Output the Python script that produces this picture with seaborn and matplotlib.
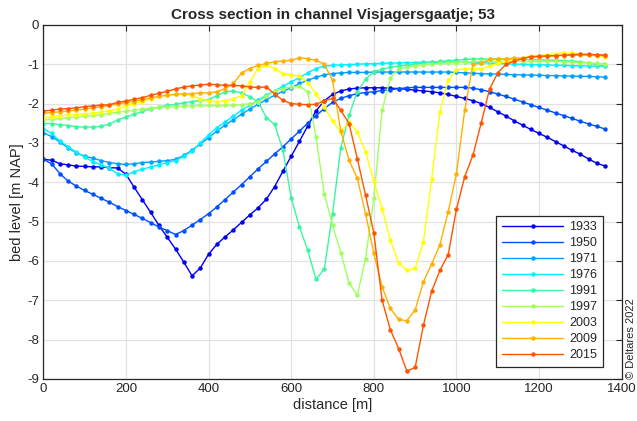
import numpy as np
import pandas as pd
import matplotlib
matplotlib.use("Agg")
import matplotlib.pyplot as plt
import seaborn as sns

# distance along the cross section [m]
distance = [0, 20, 40, 60, 80, 100, 120, 140, 160, 180,
            200, 220, 240, 260, 280, 300, 320, 340, 360, 380,
            400, 420, 440, 460, 480, 500, 520, 540, 560, 580,
            600, 620, 640, 660, 680, 700, 720, 740, 760, 780,
            800, 820, 840, 860, 880, 900, 920, 940, 960, 980,
            1000, 1020, 1040, 1060, 1080, 1100, 1120, 1140, 1160, 1180,
            1200, 1220, 1240, 1260, 1280, 1300, 1320, 1340, 1360]

years = ['1933', '1950', '1971', '1976', '1991', '1997', '2003', '2009', '2015']

# bed level [m NAP] per survey year
z1933 = [-3.42, -3.44, -3.53, -3.56, -3.59, -3.60, -3.61, -3.61, -3.63, -3.64,
         -3.80, -4.13, -4.45, -4.77, -5.10, -5.40, -5.70, -6.03, -6.38, -6.18,
         -5.83, -5.58, -5.39, -5.21, -5.02, -4.83, -4.65, -4.43, -4.11, -3.72,
         -3.34, -2.96, -2.57, -2.19, -1.93, -1.77, -1.68, -1.63, -1.61, -1.60,
         -1.60, -1.60, -1.61, -1.62, -1.64, -1.66, -1.68, -1.70, -1.73, -1.77,
         -1.82, -1.87, -1.93, -2.00, -2.10, -2.21, -2.32, -2.44, -2.55, -2.66,
         -2.76, -2.86, -2.97, -3.08, -3.19, -3.29, -3.41, -3.52, -3.59]
z1950 = [-3.42, -3.53, -3.78, -3.97, -4.10, -4.21, -4.31, -4.41, -4.51, -4.62,
         -4.72, -4.82, -4.92, -5.03, -5.14, -5.23, -5.33, -5.23, -5.09, -4.95,
         -4.80, -4.63, -4.44, -4.25, -4.06, -3.86, -3.66, -3.47, -3.28, -3.10,
         -2.90, -2.70, -2.50, -2.31, -2.13, -1.97, -1.87, -1.80, -1.75, -1.72,
         -1.70, -1.67, -1.65, -1.62, -1.60, -1.59, -1.59, -1.59, -1.59, -1.59,
         -1.59, -1.59, -1.61, -1.65, -1.70, -1.76, -1.82, -1.89, -1.96, -2.03,
         -2.10, -2.17, -2.24, -2.31, -2.38, -2.45, -2.52, -2.58, -2.65]
z1971 = [-2.74, -2.84, -2.98, -3.13, -3.25, -3.34, -3.39, -3.45, -3.50, -3.53,
         -3.55, -3.53, -3.50, -3.49, -3.47, -3.45, -3.42, -3.32, -3.19, -3.03,
         -2.87, -2.70, -2.55, -2.41, -2.27, -2.14, -2.02, -1.90, -1.79, -1.69,
         -1.60, -1.49, -1.41, -1.33, -1.27, -1.24, -1.22, -1.21, -1.21, -1.21,
         -1.20, -1.20, -1.20, -1.20, -1.20, -1.20, -1.20, -1.20, -1.20, -1.20,
         -1.21, -1.22, -1.23, -1.24, -1.25, -1.25, -1.26, -1.27, -1.27, -1.28,
         -1.28, -1.29, -1.29, -1.30, -1.30, -1.31, -1.31, -1.32, -1.33]
z1976 = [-2.64, -2.76, -2.95, -3.10, -3.24, -3.36, -3.48, -3.56, -3.65, -3.79,
         -3.82, -3.73, -3.67, -3.61, -3.56, -3.50, -3.45, -3.34, -3.21, -3.00,
         -2.80, -2.61, -2.47, -2.32, -2.17, -2.04, -1.92, -1.79, -1.68, -1.56,
         -1.45, -1.34, -1.22, -1.11, -1.05, -1.03, -1.02, -1.01, -1.00, -0.99,
         -0.99, -0.98, -0.97, -0.97, -0.96, -0.96, -0.95, -0.95, -0.95, -0.95,
         -0.95, -0.95, -0.96, -0.96, -0.97, -0.98, -0.99, -1.00, -1.00, -1.01,
         -1.02, -1.02, -1.03, -1.03, -1.04, -1.04, -1.05, -1.05, -1.05]
z1991 = [-2.51, -2.51, -2.54, -2.56, -2.59, -2.60, -2.60, -2.58, -2.52, -2.42,
         -2.34, -2.27, -2.20, -2.14, -2.09, -2.05, -2.02, -1.98, -1.95, -1.92,
         -1.90, -1.80, -1.70, -1.68, -1.73, -1.83, -1.96, -2.36, -2.53, -3.19,
         -4.39, -5.14, -5.73, -6.47, -6.21, -4.81, -3.12, -2.30, -1.70, -1.38,
         -1.19, -1.13, -1.08, -1.05, -1.02, -1.00, -0.97, -0.95, -0.93, -0.91,
         -0.90, -0.88, -0.87, -0.87, -0.87, -0.87, -0.88, -0.88, -0.88, -0.89,
         -0.89, -0.90, -0.90, -0.91, -0.92, -0.94, -0.97, -1.01, -1.05]
z1997 = [-2.42, -2.40, -2.38, -2.36, -2.34, -2.32, -2.30, -2.28, -2.25, -2.22,
         -2.20, -2.17, -2.14, -2.12, -2.10, -2.09, -2.08, -2.07, -2.06, -2.05,
         -2.05, -2.05, -2.05, -2.04, -2.03, -2.00, -1.95, -1.82, -1.68, -1.62,
         -1.58, -1.56, -1.70, -2.85, -4.29, -5.09, -5.79, -6.56, -6.87, -5.94,
         -4.40, -2.17, -1.35, -1.12, -1.07, -1.04, -1.02, -1.00, -0.98, -0.97,
         -0.96, -0.95, -0.94, -0.93, -0.93, -0.93, -0.93, -0.93, -0.93, -0.93,
         -0.93, -0.93, -0.93, -0.94, -0.95, -0.96, -0.97, -0.98, -0.99]
z2003 = [-2.36, -2.34, -2.31, -2.30, -2.28, -2.26, -2.25, -2.21, -2.19, -2.13,
         -2.06, -2.00, -1.95, -1.88, -1.82, -1.78, -1.76, -1.76, -1.80, -1.88,
         -1.93, -1.96, -1.93, -1.88, -1.80, -1.45, -1.11, -1.03, -1.11, -1.24,
         -1.28, -1.30, -1.47, -1.75, -2.08, -2.44, -2.72, -2.47, -2.72, -3.23,
         -3.97, -4.67, -5.47, -6.05, -6.24, -6.19, -5.52, -3.91, -2.21, -1.41,
         -1.14, -1.12, -1.12, -1.12, -1.05, -0.98, -0.93, -0.88, -0.84, -0.80,
         -0.78, -0.76, -0.73, -0.71, -0.72, -0.74, -0.76, -0.79, -0.81]
z2009 = [-2.25, -2.23, -2.21, -2.19, -2.17, -2.14, -2.11, -2.08, -2.05, -2.01,
         -1.98, -1.95, -1.90, -1.86, -1.82, -1.79, -1.77, -1.76, -1.75, -1.73,
         -1.73, -1.70, -1.62, -1.49, -1.22, -1.11, -1.03, -0.98, -0.94, -0.92,
         -0.90, -0.84, -0.86, -0.90, -1.00, -1.41, -2.70, -3.44, -3.90, -4.80,
         -5.81, -6.66, -7.21, -7.49, -7.52, -7.25, -6.53, -6.08, -5.59, -4.75,
         -3.78, -2.17, -1.00, -0.98, -0.88, -0.87, -0.86, -0.85, -0.84, -0.82,
         -0.81, -0.80, -0.79, -0.78, -0.77, -0.77, -0.77, -0.77, -0.78]
z2015 = [-2.19, -2.17, -2.14, -2.13, -2.11, -2.08, -2.06, -2.04, -2.03, -1.97,
         -1.94, -1.89, -1.85, -1.79, -1.74, -1.69, -1.63, -1.58, -1.55, -1.53,
         -1.51, -1.52, -1.54, -1.54, -1.55, -1.58, -1.59, -1.58, -1.76, -1.92,
         -2.00, -2.02, -2.03, -2.02, -1.93, -1.87, -2.17, -2.51, -3.40, -4.33,
         -5.29, -7.00, -7.75, -8.23, -8.80, -8.71, -7.64, -6.77, -6.24, -5.84,
         -4.69, -3.86, -3.31, -2.49, -1.64, -1.22, -1.00, -0.92, -0.86, -0.81,
         -0.80, -0.79, -0.78, -0.77, -0.76, -0.75, -0.75, -0.76, -0.77]

# jet-like colours, one per survey
colors = ['#0000f0', '#0050ff', '#00a0ff', '#00f0ff', '#3cf5a0',
          '#a0ff60', '#ffff00', '#ffb000', '#ff5500']

#############################################################################
# long format table for seaborn
#############################################################################
profiles = [z1933, z1950, z1971, z1976, z1991, z1997, z2003, z2009, z2015]
frames = []
for yr, z in zip(years, profiles):
    frames.append(pd.DataFrame({'distance': distance, 'bed': z, 'year': yr}))
df = pd.concat(frames, ignore_index=True)

#############################################################################
# plot
#############################################################################
sns.set_style("white")
plt.rcParams['font.family'] = ['Liberation Sans', 'DejaVu Sans']
plt.rcParams['axes.unicode_minus'] = False

fig = plt.figure(figsize=(6.37, 4.21), dpi=100)
ax = fig.add_axes([0.068, 0.100, 0.908, 0.841])

sns.lineplot(data=df, x='distance', y='bed', hue='year', hue_order=years,
             palette=colors, marker='o', markersize=3.2, markeredgewidth=0,
             linewidth=1, estimator=None, errorbar=None, sort=False, ax=ax)

ax.set_xlim(0, 1400)
ax.set_ylim(-9, 0)
ax.set_xticks(range(0, 1401, 200))
ax.set_yticks(range(-9, 1))
ax.grid(True, color='#e2e2e2', linewidth=0.9)
ax.set_axisbelow(True)
ax.tick_params(direction='in', top=True, right=True, length=4, width=0.8,
               labelsize=9.5, colors='#262626', pad=3)
for s in ax.spines.values():
    s.set_color('#262626')
    s.set_linewidth(0.9)

ax.set_title('Cross section in channel Visjagersgaatje; 53', fontsize=11,
             fontweight='bold', pad=4)
ax.set_xlabel('distance [m]', fontsize=10.5, color='#262626', labelpad=2)
ax.set_ylabel('bed level [m NAP]', fontsize=10.5, color='#262626', labelpad=2)

handles, labels = ax.get_legend_handles_labels()
leg = ax.legend(handles, labels, loc='lower right', bbox_to_anchor=(0.967, 0.034),
                borderaxespad=0, fontsize=9, handlelength=4.9, handletextpad=0.45,
                labelspacing=0.32, borderpad=0.45, fancybox=False, framealpha=1,
                edgecolor='#262626')
leg.get_frame().set_linewidth(0.9)

fig.text(0.991, 0.100, '© Deltares 2022', rotation=90, ha='center', va='bottom',
         fontsize=8, color='#262626')

fig.savefig('out.png', dpi=100)
